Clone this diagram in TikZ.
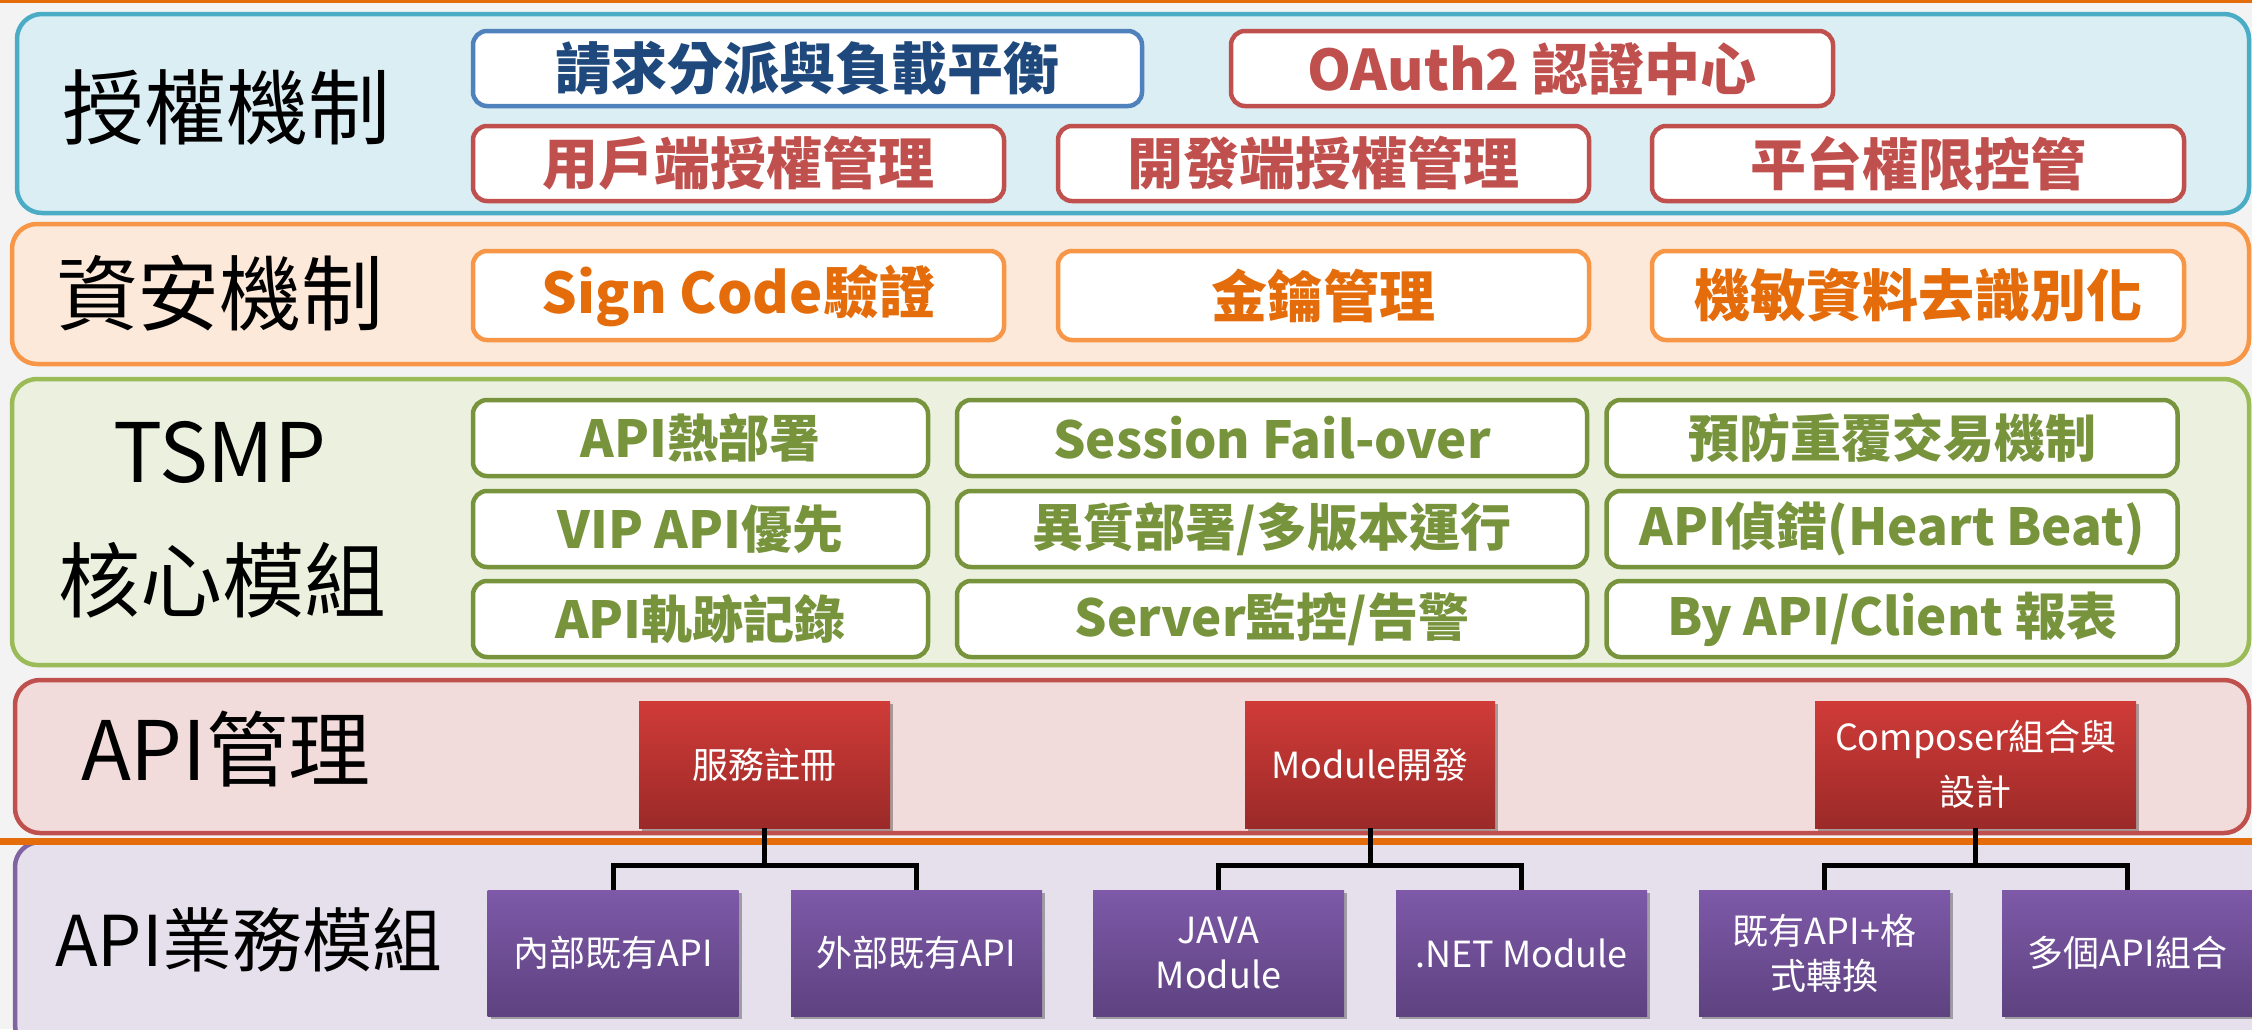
\documentclass[tikz,border=0pt]{standalone}
\usepackage{fontspec}
\setmainfont{Noto Sans CJK TC}
\usetikzlibrary{shadows}
\definecolor{bgc}{HTML}{F3F3F3}
\definecolor{lineor}{HTML}{E46C0A}
\definecolor{bluefill}{HTML}{DAEEF3}
\definecolor{bluedraw}{HTML}{4BACC6}
\definecolor{orfill}{HTML}{FDE9D9}
\definecolor{ordraw}{HTML}{F79646}
\definecolor{grfill}{HTML}{EBF1DE}
\definecolor{grdraw}{HTML}{9BBB59}
\definecolor{rdfill}{HTML}{F2DCDB}
\definecolor{rddraw}{HTML}{C0504D}
\definecolor{pufill}{HTML}{E5E0EC}
\definecolor{pudraw}{HTML}{8064A2}
\definecolor{navy}{HTML}{1F497D}
\definecolor{boxblue}{HTML}{4F81BD}
\definecolor{ortext}{HTML}{E46C0A}
\definecolor{grn}{HTML}{77933C}
\definecolor{redT}{HTML}{D03B38}
\definecolor{redB}{HTML}{9B2A28}
\definecolor{purT}{HTML}{7D59A8}
\definecolor{purB}{HTML}{5E4280}
\begin{document}
\begin{tikzpicture}[x=1pt,y=-1pt,
  band/.style={line width=4.5pt, rounded corners=25pt},
  wbox/.style={draw, fill=white, line width=4.5pt, rounded corners=14pt, inner sep=0pt,
    font=\bfseries\fontsize{56}{60}\selectfont},
  bbox/.style={wbox, draw=boxblue, text=navy, minimum height=75pt},
  rtbox/.style={wbox, draw=rddraw, text=rddraw, minimum height=75pt},
  obox/.style={wbox, draw=ordraw, text=ortext, minimum height=89pt},
  gbox/.style={wbox, draw=grn, text=grn, minimum height=76pt,
    font=\bfseries\fontsize{51}{56}\selectfont},
  rbox/.style={inner sep=0pt, top color=redT, bottom color=redB, draw=none, text=white,
    minimum height=127pt, align=center, font=\fontsize{36}{55}\selectfont,
    drop shadow={shadow xshift=3pt, shadow yshift=-3pt, opacity=0.3, fill=black}},
  pbox/.style={inner sep=0pt, top color=purT, bottom color=purB, draw=none, text=white,
    minimum height=126pt, minimum width=251pt, align=center, font=\fontsize{36}{45}\selectfont,
    drop shadow={shadow xshift=3pt, shadow yshift=-3pt, opacity=0.3, fill=black}},
  title/.style={font=\fontsize{82}{90}\selectfont, text=black, inner sep=0pt},
  conn/.style={line width=5pt, draw=black}
]
\clip (0,0) rectangle (2252,1029);
\fill[bgc] (0,0) rectangle (2252,1029);
\fill[lineor] (0,0) rectangle (2252,3);

% bands
\draw[band, fill=bluefill, draw=bluedraw] (17,14) rectangle (2249,213);
\draw[band, fill=orfill, draw=ordraw] (12,224) rectangle (2249,364);
\draw[band, fill=grfill, draw=grdraw] (12,379) rectangle (2249,665);
\draw[band, fill=rdfill, draw=rddraw] (15,680) rectangle (2249,833);
\draw[band, fill=pufill, draw=pudraw] (15,842) rectangle (2275,1050);
\fill[lineor] (0,838) rectangle (2252,845);

% titles
\node[title] (t1) at (226,107) {授權機制};
\node[title] (t2) at (220,293) {資安機制};
\node[title] (t3) at (220,452) {TSMP};
\node[title] (t4) at (222,580) {核心模組};
\node[title] (t5) at (226,749) {API管理};
\node[title, font=\fontsize{70}{80}\selectfont] (t6) at (249,940) {API業務模組};

% band 1
\node[bbox, minimum width=669pt] (a1) at (807.5,68.5) {請求分派與負載平衡};
\node[rtbox, minimum width=602pt] (a2) at (1532,68.5) {OAuth2 認證中心};
\node[rtbox, minimum width=531pt] (a3) at (738.5,163.5) {用戶端授權管理};
\node[rtbox, minimum width=531pt] (a4) at (1323.5,163.5) {開發端授權管理};
\node[rtbox, minimum width=532pt] (a5) at (1918,163.5) {平台權限控管};

% band 2
\node[obox, minimum width=531pt] (s1) at (738.5,295.5) {Sign Code驗證};
\node[obox, minimum width=531pt] (s2) at (1323.5,295.5) {金鑰管理};
\node[obox, minimum width=532pt] (s3) at (1918,295.5) {機敏資料去識別化};

% band 3
\node[gbox, minimum width=455pt] (c11) at (700.5,438) {API熱部署};
\node[gbox, minimum width=630pt] (c12) at (1272,438) {Session Fail-over};
\node[gbox, minimum width=571pt] (c13) at (1892,438) {預防重覆交易機制};
\node[gbox, minimum width=455pt] (c21) at (700.5,529) {VIP API優先};
\node[gbox, minimum width=630pt] (c22) at (1272,529) {異質部署/多版本運行};
\node[gbox, minimum width=571pt] (c23) at (1892,529) {API偵錯(Heart Beat)};
\node[gbox, minimum width=455pt] (c31) at (700.5,619) {API軌跡記錄};
\node[gbox, minimum width=630pt] (c32) at (1272,619) {Server監控/告警};
\node[gbox, minimum width=571pt] (c33) at (1892,619) {By API/Client 報表};

% band 4
\node[rbox, minimum width=251pt] (r1) at (764.5,764.5) {服務註冊};
\node[rbox, minimum width=250pt] (r2) at (1370,764.5) {Module開發};
\node[rbox, minimum width=321pt] (r3) at (1975.5,764.5) {Composer組合與\\設計};

% band 5
\node[pbox] (p1) at (613,953) {內部既有API};
\node[pbox] (p2) at (916.5,953) {外部既有API};
\node[pbox] (p3) at (1218.5,953) {JAVA\\Module};
\node[pbox] (p4) at (1521.5,953) {.NET Module};
\node[pbox] (p5) at (1824.5,953) {既有API+格\\式轉換};
\node[pbox] (p6) at (2127.5,953) {多個API組合};

% connectors
\path (r1.south) ++(0,37) coordinate (j1);
\path (r2.south) ++(0,37) coordinate (j2);
\path (r3.south) ++(0,37) coordinate (j3);
\draw[conn] (r1.south) -- (j1);
\draw[conn] (p1.north) |- (j1) -| (p2.north);
\draw[conn] (r2.south) -- (j2);
\draw[conn] (p3.north) |- (j2) -| (p4.north);
\draw[conn] (r3.south) -- (j3);
\draw[conn] (p5.north) |- (j3) -| (p6.north);
\end{tikzpicture}
\end{document}
